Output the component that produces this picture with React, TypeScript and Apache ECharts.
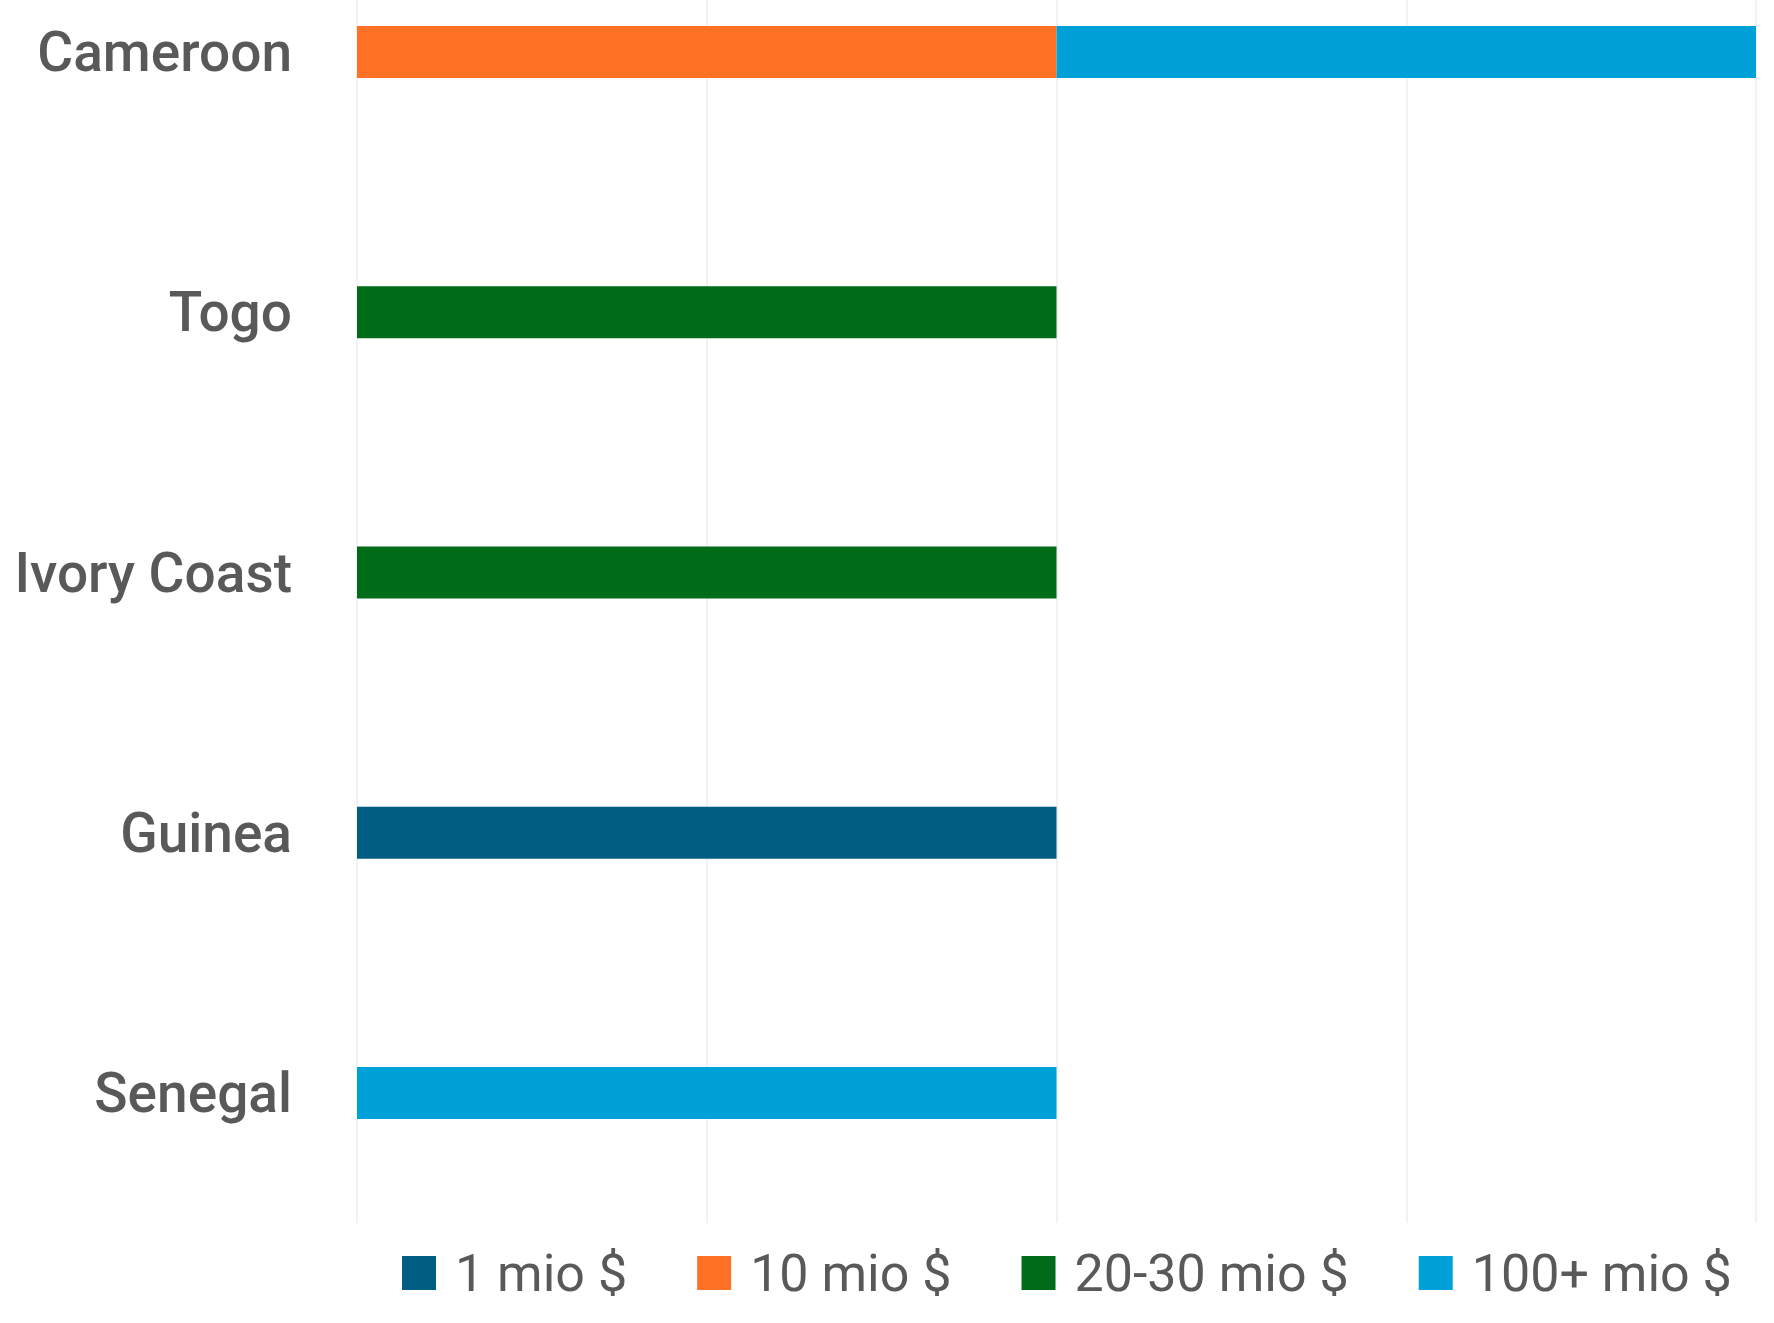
import React, { useEffect, useRef } from "react";
import * as echarts from "echarts";

const countries = ["Cameroon", "Togo", "Ivory Coast", "Guinea", "Senegal"];
const seriesNames = ["1 mio $", "10 mio $", "20-30 mio $", "100+ mio $"];
const seriesColors = ["#005E85", "#FF7226", "#006B18", "#00A1D9"];
const oneMio = [0, 0, 0, 1, 0];
const tenMio = [1, 0, 0, 0, 0];
const twentyThirtyMio = [0, 1, 1, 0, 0];
const hundredPlusMio = [1, 0, 0, 0, 1];
const seriesValues = [oneMio, tenMio, twentyThirtyMio, hundredPlusMio];

const FONT = "Roboto, 'Liberation Sans', sans-serif";

export default function App() {
  const ref = useRef<HTMLDivElement>(null);
  useEffect(() => {
    if (!ref.current) return;
    const chart = echarts.init(ref.current, null, { renderer: "svg" });
    chart.setOption({
      animation: false,
      backgroundColor: "#ffffff",
      grid: { left: 357, right: 18, top: 0, height: 1301, outerBoundsMode: "none", containLabel: false },
      xAxis: {
        type: "value",
        min: 0,
        max: 2,
        interval: 0.5,
        axisLabel: { show: false },
        axisLine: { show: false },
        axisTick: { show: false },
        splitLine: { show: true, lineStyle: { color: "#eeeeee", width: 1.5 } },
      },
      yAxis: {
        type: "category",
        inverse: true,
        data: countries,
        axisLine: { show: false },
        axisTick: { show: false },
        axisLabel: {
          margin: 65,
          color: "#595959",
          fontFamily: FONT,
          fontWeight: 500,
          fontSize: 55,
        },
      },
      legend: {
        left: 402,
        top: 1325,
        width: 1372,
        padding: 0,
        itemWidth: 34,
        itemHeight: 34,
        itemGap: 70,
        icon: "rect",
        textStyle: {
          color: "#595959",
          fontFamily: FONT,
          fontSize: 52,
          padding: [0, 0, 0, 14],
        },
        data: seriesNames,
      },
      series: seriesNames.map((name, i) => ({
        name,
        type: "bar",
        stack: "total",
        barWidth: 52,
        itemStyle: { color: seriesColors[i] },
        data: seriesValues[i].map((v) => (v === 0 ? null : v)),
      })),
    });
    return () => chart.dispose();
  }, []);
  return (
    <div
      ref={ref}
      style={{ position: "absolute", left: 0, top: -78, width: 1774, height: 1401 }}
    />
  );
}
